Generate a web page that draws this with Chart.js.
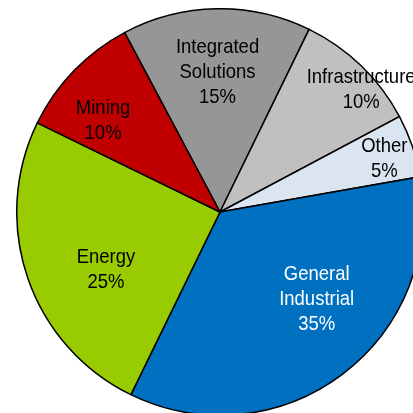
<!DOCTYPE html>
<html>
<head>
<meta charset="utf-8">
<script src="https://cdn.jsdelivr.net/npm/chart.js@4/dist/chart.umd.min.js"></script>
<style>
  html, body { margin: 0; padding: 0; background: #fff; overflow: hidden; }
  body { width: 413px; height: 413px; position: relative; }
  #wrap { position: absolute; left: 16px; top: 8px; width: 408px; height: 408px; }
</style>
</head>
<body>
<div id="wrap"><canvas id="pie"></canvas></div>
<script>
// segment shares, clockwise from the top-left slice
const segments = ['Integrated Solutions', 'Infrastructure', 'Other', 'General Industrial', 'Energy', 'Mining'];
const shares = [15, 10, 5, 35, 25, 10];
const labelLines = [['Integrated', 'Solutions'], ['Infrastructure'], ['Other'], ['General', 'Industrial'], ['Energy'], ['Mining']];
const sliceColors = ['#969696', '#c0c0c0', '#dbe5f1', '#0070c0', '#99cc00', '#c00000'];
const textColors = ['#000', '#000', '#000', '#fff', '#000', '#000'];

// where each label block sits: fraction of radius and angle nudge (deg)
const labelPlace = [
  { r: 0.69, da: 0 },
  { r: 0.92, da: 5 },
  { r: 0.85, da: 1 },
  { r: 0.64, da: -11 },
  { r: 0.63, da: -8 },
  { r: 0.73, da: -6 }
];

// narrow-looking text: squeeze a regular face horizontally
const squeeze = 0.88;

const sliceLabels = {
  id: 'sliceLabels',
  afterDatasetsDraw(chart) {
    const ctx = chart.ctx;
    const meta = chart.getDatasetMeta(0);
    meta.data.forEach((arc, i) => {
      const { x, y, startAngle, endAngle, outerRadius } = arc.getProps(['x', 'y', 'startAngle', 'endAngle', 'outerRadius'], true);
      const mid = (startAngle + endAngle) / 2 + labelPlace[i].da * Math.PI / 180;
      const d = outerRadius * labelPlace[i].r;
      const cx = x + Math.cos(mid) * d;
      const cy = y + Math.sin(mid) * d;
      const lines = labelLines[i].concat([shares[i] + '%']);
      const lh = 25;
      const top = cy - (lines.length - 1) * lh / 2;
      ctx.save();
      ctx.translate(cx, 0);
      ctx.scale(squeeze, 1);
      ctx.font = '21px "Liberation Sans", Arial, sans-serif';
      ctx.textAlign = 'center';
      ctx.textBaseline = 'middle';
      ctx.fillStyle = textColors[i];
      lines.forEach((t, k) => ctx.fillText(t, 0, top + k * lh));
      ctx.restore();
    });
  }
};

new Chart(document.getElementById('pie'), {
  type: 'pie',
  data: {
    labels: segments,
    datasets: [{
      data: shares,
      backgroundColor: sliceColors,
      borderColor: '#000',
      borderWidth: 1.5,
      borderJoinStyle: 'miter'
    }]
  },
  options: {
    responsive: true,
    maintainAspectRatio: false,
    animation: false,
    rotation: -28,
    layout: { padding: 0 },
    plugins: {
      legend: { display: false },
      tooltip: { enabled: false }
    }
  },
  plugins: [sliceLabels]
});
</script>
</body>
</html>
